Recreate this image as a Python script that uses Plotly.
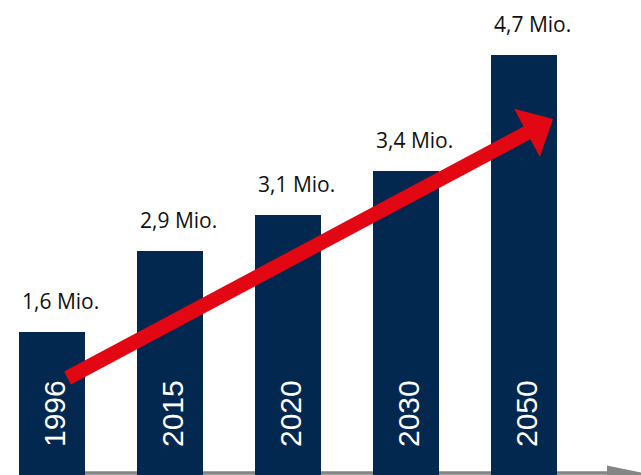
import numpy as np
import plotly.graph_objects as go

# ---- data ----
years = ["1996", "2015", "2020", "2030", "2050"]
value_labels = ["1,6 Mio.", "2,9 Mio.", "3,1 Mio.", "3,4 Mio.", "4,7 Mio."]
values = [1.6, 2.9, 3.1, 3.4, 4.7]
# drawn bar heights as shown in the (not-to-scale) infographic
drawn_heights = [1.43, 2.24, 2.60, 3.04, 4.20]

W, H = 641, 475
NAVY = "#03284f"
RED = "#e30613"
GRAY = "#858585"

x = list(range(len(years)))
bar_w = 0.559
x_range = [-0.4407, 4.9915]
y_range = [0, 4.75]

fig = go.Figure()
fig.add_trace(go.Bar(
    x=x, y=drawn_heights, width=bar_w,
    marker=dict(color=NAVY, line=dict(width=0)),
    hoverinfo="skip", showlegend=False,
))

ann = []
for xi, h, lab, yr in zip(x, drawn_heights, value_labels, years):
    ann.append(dict(
        x=xi - bar_w / 2, y=h, xref="x", yref="y", text=lab, showarrow=False,
        xanchor="left", yanchor="bottom", xshift=1, yshift=15,
        font=dict(family="Open Sans", size=21, color="#111111"),
    ))
    ann.append(dict(
        x=xi, y=0.61, xref="x", yref="y", text=yr, showarrow=False,
        xanchor="center", yanchor="middle", textangle=-90, xshift=2,
        font=dict(family="Liberation Sans, Arial, sans-serif", size=30, color="white"),
    ))

# ---- decorative arrows (pixel geometry -> paper coords) ----
def to_paper(pts):
    return [(px / W, 1 - py / H) for px, py in pts]

def path_from(pts):
    p = to_paper(pts)
    return "M " + " L ".join(f"{a:.5f},{b:.5f}" for a, b in p) + " Z"

tail = np.array([67.5, 378.0])
tip = np.array([553.0, 119.0])
u = (tip - tail) / np.linalg.norm(tip - tail)
n = np.array([-u[1], u[0]])
shaft_w, head_len, head_half = 14.5, 29.5, 27.3
base = tip - u * head_len
red_pts = [
    tail + n * shaft_w / 2,
    base + n * shaft_w / 2,
    base + n * head_half,
    tip,
    base - n * head_half,
    base - n * shaft_w / 2,
    tail - n * shaft_w / 2,
]

shapes = [
    # gray baseline arrow (below bars)
    dict(type="line", xref="paper", yref="paper",
         x0=55 / W, x1=612 / W, y0=1 - 473 / H, y1=1 - 473 / H,
         line=dict(color=GRAY, width=3.5), layer="below"),
    dict(type="path", xref="paper", yref="paper",
         path=path_from([(607, 465.5), (650, 474.5), (607, 483.5)]),
         fillcolor=GRAY, line=dict(width=0), layer="below"),
    # red trend arrow
    dict(type="path", xref="paper", yref="paper",
         path=path_from([tuple(p) for p in red_pts]),
         fillcolor=RED, line=dict(width=0), layer="above"),
]

fig.update_layout(
    width=W, height=H,
    margin=dict(l=0, r=0, t=0, b=0),
    paper_bgcolor="white", plot_bgcolor="white",
    xaxis=dict(range=x_range, visible=False, fixedrange=True),
    yaxis=dict(range=y_range, visible=False, fixedrange=True),
    annotations=ann, shapes=shapes,
    bargap=0,
)

fig.write_html("out.html", config=dict(displayModeBar=False))
